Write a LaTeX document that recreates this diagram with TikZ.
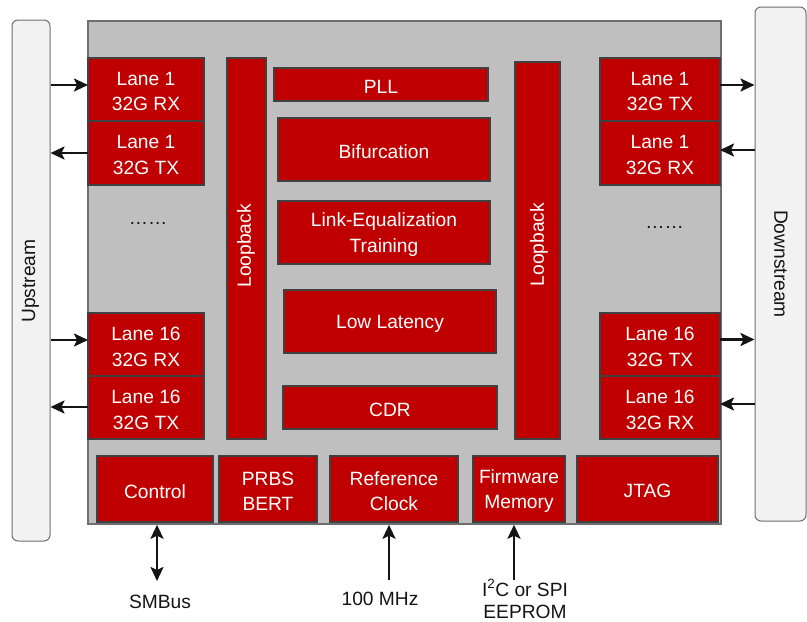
\documentclass[tikz,border=0pt]{standalone}
\usepackage{fontspec}
\setmainfont{Liberation Sans}
\usetikzlibrary{arrows.meta,calc}

\definecolor{chipred}{HTML}{C00000}
\definecolor{blkedge}{HTML}{404040}
\definecolor{diefill}{HTML}{BFBFBF}
\definecolor{dieedge}{HTML}{6E6E6E}
\definecolor{portfill}{HTML}{F2F2F2}
\definecolor{portedge}{HTML}{6E6E6E}
\definecolor{ink}{HTML}{141414}

\tikzset{
  x=1pt, y=-1pt,
  lbl/.style={font=\fontsize{19.2}{25.5}\selectfont, align=center, inner sep=0pt},
  blk/.style={draw=blkedge, line width=1.3pt, fill=chipred, inner sep=0pt,
              outer sep=0pt},
  blktxt/.style={lbl, text=white},
  die/.style={draw=dieedge, line width=1.5pt, fill=diefill, inner sep=0pt},
  port/.style={draw=portedge, line width=1pt, fill=portfill, rounded corners=6pt,
               inner sep=0pt},
  sig/.style={draw=ink, line width=2.3pt, -{Stealth[length=14pt,width=13pt,inset=3pt]}},
  bisig/.style={draw=ink, line width=2.3pt,
              {Stealth[length=14pt,width=13pt,inset=3pt]}-{Stealth[length=14pt,width=13pt,inset=3pt]}},
}

% \chipblock{name}{x1}{y1}{x2}{y2}{text}: red block with its caption
\newcommand\chipblock[6]{%
  \node[blk, minimum width={#4pt-#2pt}, minimum height={#5pt-#3pt}]
    (#1) at ({(#2+#4)/2},{(#3+#5)/2}) {};
  \node[blktxt] (#1-txt) at ([yshift=-2.2pt]#1.center) {#6};}

\begin{document}
\begin{tikzpicture}
\useasboundingbox (0,0) rectangle (807,622);

% die outline
\node[die, minimum width=633pt, minimum height=503pt] (die) at (404.5,272.5) {};

% host and device sides
\node[port, minimum width=38pt, minimum height=521pt] (up) at (31,280.5) {};
\node[lbl, rotate=90, text=ink] (uptxt) at (30.5,281) {Upstream};
\node[port, minimum width=51pt, minimum height=514pt] (down) at (780.5,264) {};
\node[lbl, rotate=-90, text=ink] (downtxt) at (781,264) {Downstream};

% upstream lanes
\chipblock{lrx1}{88}{58}{204}{121}{Lane 1\\32G RX}
\chipblock{ltx1}{88}{121}{204}{185}{Lane 1\\32G TX}
\chipblock{lrx16}{88}{313}{204}{376}{Lane 16\\32G RX}
\chipblock{ltx16}{88}{376}{204}{439}{Lane 16\\32G TX}

% downstream lanes
\chipblock{rtx1}{600}{58}{720}{121}{Lane 1\\32G TX}
\chipblock{rrx1}{600}{121}{720}{185}{Lane 1\\32G RX}
\chipblock{rtx16}{600}{313}{720}{376}{Lane 16\\32G TX}
\chipblock{rrx16}{600}{376}{720}{439}{Lane 16\\32G RX}

\node[lbl, text=ink] (dotsl) at (148,223) {……};
\node[lbl, text=ink] (dotsr) at (664.5,227) {……};

% loopback paths
\chipblock{lbl}{227}{58}{266}{439}{}
\node[lbl, rotate=90, text=white] (lbltxt) at (246,246) {Loopback};
\chipblock{lbr}{515}{62}{560}{439}{}
\node[lbl, rotate=90, text=white] (lbrtxt) at (539,244.5) {Loopback};

% core functions
\chipblock{pll}{274}{68}{488}{101}{PLL}
\chipblock{bif}{278}{118}{490}{181}{Bifurcation}
\chipblock{leq}{278}{201}{490}{264}{Link-Equalization\\Training}
\chipblock{lat}{284}{290}{496}{353}{Low Latency}
\chipblock{cdr}{283}{386}{497}{429}{CDR}

% management row
\chipblock{ctrl}{97}{456}{213}{522}{Control}
\chipblock{prbs}{219}{456}{317}{522}{PRBS\\BERT}
\chipblock{refclk}{330}{456}{458}{522}{Reference\\Clock}
\chipblock{fw}{473}{456}{565}{522}{Firmware\\Memory}
\chipblock{jtag}{577}{456}{718}{522}{JTAG}

% upstream serial links
\coordinate (a1) at ([yshift=4.5pt]lrx1.west);
\coordinate (a2) at (ltx1.west);
\coordinate (a3) at ([yshift=4.5pt]lrx16.west);
\coordinate (a4) at ([yshift=0.5pt]ltx16.west);
\draw[sig] (a1 -| up.east) -- (a1);
\draw[sig] (a2) -- (a2 -| up.east);
\draw[sig] (a3 -| up.east) -- (a3);
\draw[sig] (a4) -- (a4 -| up.east);

% downstream serial links
\coordinate (b1) at ([yshift=4.5pt]rtx1.east);
\coordinate (b2) at ([yshift=3pt]rrx1.east);
\coordinate (b3) at ([yshift=5pt]rtx16.east);
\coordinate (b4) at ([yshift=3.5pt]rrx16.east);
\draw[sig] (b1) -- (b1 -| down.west);
\draw[sig] (b2 -| down.west) -- (b2);
\draw[sig] (b3) -- (b3 -| down.west);
\draw[sig] (b4 -| down.west) -- (b4);

% external interfaces
\node[lbl, text=ink] (smbus) at (160,602) {SMBus};
\node[lbl, text=ink] (clk) at (380,599) {100 MHz};
\node[lbl, text=ink, font=\fontsize{19.2}{22}\selectfont] (eeprom) at (525,599)
  {I\textsuperscript{2}C or SPI\\EEPROM};

\coordinate (c1) at (157,581);
\coordinate (c2) at (389,580);
\coordinate (c3) at (514,580);
\draw[bisig] (c1) -- (c1 |- die.south);
\draw[sig] (c2) -- (c2 |- die.south);
\draw[sig] (c3) -- (c3 |- die.south);

\end{tikzpicture}
\end{document}
